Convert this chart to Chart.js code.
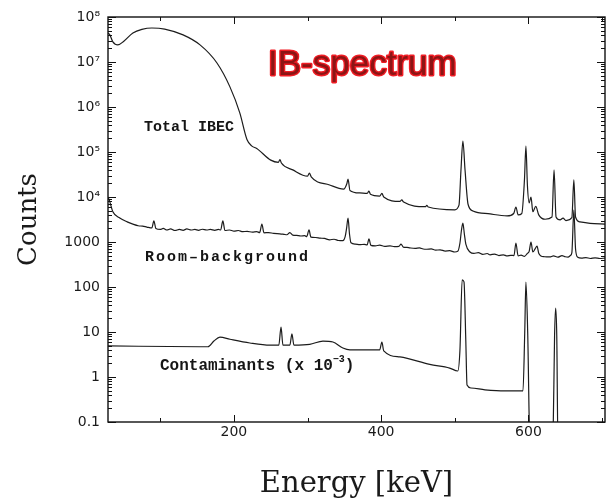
<!DOCTYPE html>
<html>
<head>
<meta charset="utf-8">
<title>IB-spectrum</title>
<script src="https://cdn.jsdelivr.net/npm/chart.js"></script>
<style>
  html, body { margin: 0; padding: 0; background: #fff; }
  #ib { display: block; }
</style>
</head>
<body>
<canvas id="ib" width="611" height="502"></canvas>
<script>
// spectra: energy in keV, counts per channel
var totalEnergy = [29, 31.5, 35.6, 42.4, 50.5, 62.8, 75, 88.6, 106, 131, 154, 177, 194.6, 208, 217.7, 224.5, 231,
  250, 260.5, 262.5, 264.5, 280, 300, 302.5, 305, 330, 349, 353.5, 355, 357.6, 371, 381, 383.4, 385.5,
  398, 401, 403.5, 425.5, 428, 430.5, 460, 462, 464, 500, 505.7, 508.4, 511, 513.9, 518, 524.7, 548, 571,
  580, 583, 586, 591, 594.6, 596.6, 598.6, 601, 603.5, 606, 610, 614, 622.6, 632, 634.8, 637.5, 643, 647,
  651, 659, 661.7, 664, 670, 683.7, 704];
var totalCounts = [4.4e7, 4.0e7, 2.8e7, 2.4e7, 2.9e7, 4.4e7, 5.3e7, 5.7e7, 5.4e7, 4.0e7, 2.4e7, 9.5e6, 2.8e6, 7.4e5, 1.9e5, 1.35e5, 1.2e5,
  6.6e4, 5.9e4, 6.8e4, 5.7e4, 4.0e4, 2.9e4, 3.4e4, 2.8e4, 1.85e4, 1.5e4, 2.0e4, 2.5e4, 1.4e4, 1.23e4, 1.2e4, 1.35e4, 1.15e4,
  1.05e4, 1.2e4, 1.0e4, 8.0e3, 8.6e3, 7.7e3, 6.1e3, 6.5e3, 6.0e3, 5.2e3, 6.6e3, 4.0e4, 1.74e5, 4.0e4, 6.9e3, 4.9e3, 4.2e3, 3.8e3,
  4.3e3, 6.0e3, 4.0e3, 4.3e3, 2.4e4, 1.35e5, 1.85e4, 7.4e3, 1.0e4, 4.7e3, 6.2e3, 4.0e3, 3.2e3, 3.6e3, 4.0e4, 3.6e3, 3.1e3, 3.4e3,
  3.0e3, 3.5e3, 2.4e4, 3.6e3, 2.8e3, 2.6e3, 2.5e3];

var roomEnergy = [29, 31.5, 35.6, 45, 55, 62.8, 70, 76, 81.8, 88.6,
  91.3, 94, 100, 104, 109, 114, 120, 126, 131, 136,
  142, 147, 152, 157, 163, 168, 174, 179, 182, 185,
  187.8, 194, 200, 206, 212, 218, 225, 231, 235, 238,
  240.8, 247, 254, 262.5, 268, 272, 276, 280, 285, 291,
  296, 299, 302, 304.6, 311, 317, 323, 330, 336, 342,
  348, 351, 353, 355, 357, 359, 365, 371, 377, 381,
  383.4, 386, 392, 398, 405, 412, 418, 424, 427, 430,
  435, 439, 446, 452, 457, 462, 468, 474, 480, 487,
  493, 500, 504, 507, 509, 511, 513, 515, 520.6, 526,
  532, 538, 544, 548, 554, 560, 566, 571, 576, 580.4,
  583, 586, 590, 594.6, 598.6, 601, 603.5, 606, 609, 611.7,
  614, 617, 622, 629, 634, 640, 645.6, 650, 653.8, 657,
  659, 661.7, 664, 667, 672, 678, 684, 690.5, 697, 704];
var roomCounts = [1.0e4, 7.8e3, 4.7e3, 3.4e3, 2.8e3, 2.5e3, 2.3e3, 2.25e3, 2.15e3, 2.05e3,
  2.95e3, 2.0e3, 1.9e3, 2.0e3, 1.85e3, 1.95e3, 1.8e3, 1.9e3, 1.82e3, 1.95e3,
  1.85e3, 1.9e3, 1.82e3, 1.92e3, 1.85e3, 1.9e3, 1.82e3, 1.9e3, 1.85e3, 2.95e3,
  1.8e3, 1.85e3, 1.75e3, 1.8e3, 1.7e3, 1.72e3, 1.66e3, 1.7e3, 1.62e3, 2.5e3,
  1.6e3, 1.62e3, 1.55e3, 1.52e3, 1.48e3, 1.45e3, 1.62e3, 1.42e3, 1.4e3, 1.36e3,
  1.38e3, 1.32e3, 1.86e3, 1.28e3, 1.26e3, 1.22e3, 1.2e3, 1.12e3, 1.15e3, 1.08e3,
  1.07e3, 1.3e3, 2.0e3, 3.4e3, 1.5e3, 960, 900, 870, 890, 860,
  1.17e3, 840, 820, 850, 800, 820, 790, 800, 900, 770,
  760, 740, 720, 740, 700, 690, 700, 660, 670, 630,
  640, 600, 620, 950, 1.8e3, 2.63e3, 1.5e3, 900, 600, 560,
  580, 530, 555, 520, 540, 500, 520, 490, 505, 500,
  950, 490, 510, 480, 560, 620, 1.0e3, 600, 700, 810,
  560, 490, 470, 465, 490, 460, 500, 470, 460, 500,
  580, 5.1e3, 700, 460, 440, 450, 430, 445, 430, 440];

var contEnergy = [29, 154, 164.7, 172.8, 181, 194.6, 221.7, 249, 261, 264, 266.6, 276, 278.8, 281.5, 303, 321, 334.5,
  348, 357.6, 398, 401, 403.5, 425.5, 466, 493, 504, 507, 510, 512.5, 515, 516.6, 522, 541, 568, 592.6,
  595, 596.6, 599, 602, 605, 631, 633.5, 635.5, 637, 638.5, 640, 704];
var contCounts = [4.9, 4.7, 4.7, 6.3, 7.7, 6.9, 5.7, 5.1, 5.1, 12.9, 5.1, 5.1, 9.1, 5.1, 5.3, 6.3, 6.0,
  4.4, 4.0, 4.0, 6.0, 3.8, 2.8, 1.9, 1.58, 1.36, 4.0, 145, 130, 6.0, 0.66, 0.57, 0.52, 0.49, 0.49,
  10, 129, 10, 0.03, 0.02, 0.02, 0.05, 8, 34, 8, 0.05, 0.02];

var yTickValues = [0.1, 1, 10, 100, 1000, 1e4, 1e5, 1e6, 1e7, 1e8];
var yTickLabels = ['0.1', '1', '10', '100', '1000', '10⁴', '10⁵', '10⁶', '10⁷', '10⁸'];
var xTickValues = [200, 400, 600];
var xMinorValues = [100, 300, 500, 700];

function points(xs, ys) {
  var out = [];
  for (var i = 0; i < xs.length; i++) {
    out.push({ x: xs[i], y: ys[i] });
  }
  return out;
}

function spectrum(label, xs, ys) {
  return {
    label: label,
    data: points(xs, ys),
    borderColor: '#1c1c1c',
    borderWidth: 1.2,
    pointRadius: 0,
    cubicInterpolationMode: 'monotone',
    fill: false
  };
}

// box around the plot with inward ticks on all four sides, plus the text labels
var framePlugin = {
  id: 'frame',
  afterDraw: function (chart) {
    var ctx = chart.ctx;
    var a = chart.chartArea;
    var xs = chart.scales.x;
    var ys = chart.scales.y;
    ctx.save();
    ctx.strokeStyle = '#111';
    ctx.lineWidth = 1.4;
    ctx.strokeRect(a.left, a.top, a.right - a.left, a.bottom - a.top);

    ctx.lineWidth = 1;
    ctx.beginPath();
    yTickValues.forEach(function (v, i) {
      var py = Math.round(ys.getPixelForValue(v)) + 0.5;
      ctx.moveTo(a.left, py); ctx.lineTo(a.left + 8, py);
      ctx.moveTo(a.right, py); ctx.lineTo(a.right - 8, py);
      if (i < yTickValues.length - 1) {
        for (var m = 2; m < 10; m++) {
          var pm = Math.round(ys.getPixelForValue(v * m)) + 0.5;
          ctx.moveTo(a.left, pm); ctx.lineTo(a.left + 4, pm);
          ctx.moveTo(a.right, pm); ctx.lineTo(a.right - 4, pm);
        }
      }
    });
    xTickValues.forEach(function (v) {
      var px = Math.round(xs.getPixelForValue(v)) + 0.5;
      ctx.moveTo(px, a.bottom); ctx.lineTo(px, a.bottom - 7);
      ctx.moveTo(px, a.top); ctx.lineTo(px, a.top + 7);
    });
    xMinorValues.forEach(function (v) {
      var px = Math.round(xs.getPixelForValue(v)) + 0.5;
      ctx.moveTo(px, a.bottom); ctx.lineTo(px, a.bottom - 4);
      ctx.moveTo(px, a.top); ctx.lineTo(px, a.top + 4);
    });
    ctx.stroke();

    ctx.fillStyle = '#151515';
    ctx.textBaseline = 'alphabetic';
    ctx.textAlign = 'left';
    ctx.font = 'bold 15px "Liberation Mono"';
    ctx.fillText('Total IBEC', 144, 131);
    ctx.letterSpacing = '2px';
    ctx.fillText('Room\u2013background', 145, 261);
    ctx.letterSpacing = '0px';
    ctx.font = 'bold 16px "Liberation Mono"';
    var head = 'Contaminants (x 10';
    ctx.fillText(head, 160, 370);
    var w = ctx.measureText(head).width;
    ctx.font = 'bold 10px "Liberation Mono"';
    ctx.fillText('\u22123', 160 + w, 362);
    var w2 = ctx.measureText('\u22123').width;
    ctx.font = 'bold 16px "Liberation Mono"';
    ctx.fillText(')', 160 + w + w2, 370);

    // red title with a dark core
    ctx.font = '35px "Liberation Sans"';
    ctx.lineJoin = 'round';
    ctx.strokeStyle = '#f01c24';
    ctx.lineWidth = 2.8;
    ctx.strokeText('IB-spectrum', 268, 75);
    ctx.fillStyle = '#8c1515';
    ctx.fillText('IB-spectrum', 268, 75);
    ctx.restore();
  }
};

var ibGraph = document.getElementById('ib');

var ibChart = new Chart(ibGraph, {
  type: 'line',
  data: {
    datasets: [
      spectrum('Total IBEC', totalEnergy, totalCounts),
      spectrum('Room-background', roomEnergy, roomCounts),
      spectrum('Contaminants', contEnergy, contCounts)
    ]
  },
  options: {
    responsive: false,
    animation: false,
    devicePixelRatio: 1,
    layout: { padding: { left: 0, right: 6, top: 17, bottom: 0 } },
    plugins: {
      legend: { display: false },
      tooltip: { enabled: false }
    },
    scales: {
      x: {
        type: 'linear',
        min: 29,
        max: 704,
        afterBuildTicks: function (s) {
          s.ticks = xTickValues.map(function (v) { return { value: v }; });
        },
        afterFit: function (s) { s.height = 80; },
        ticks: {
          color: '#1a1a1a',
          font: { family: 'DejaVu Sans', size: 14 },
          padding: 2,
          maxRotation: 0,
          autoSkip: false
        },
        grid: { display: false, drawTicks: false },
        border: { display: false },
        title: {
          display: true,
          text: 'Energy [keV]',
          color: '#1a1a1a',
          font: { family: 'DejaVu Serif', size: 29 },
          padding: { top: 0, bottom: 0 }
        }
      },
      y: {
        type: 'logarithmic',
        min: 0.1,
        max: 1e8,
        afterBuildTicks: function (s) {
          s.ticks = yTickValues.map(function (v) { return { value: v }; });
        },
        afterFit: function (s) { s.width = 108; },
        ticks: {
          color: '#1a1a1a',
          font: { family: 'DejaVu Sans', size: 14 },
          padding: 8,
          autoSkip: false,
          callback: function (v) {
            var i = yTickValues.indexOf(v);
            return i < 0 ? '' : yTickLabels[i];
          }
        },
        grid: { display: false, drawTicks: false },
        border: { display: false },
        title: {
          display: true,
          text: 'Counts',
          color: '#1a1a1a',
          font: { family: 'DejaVu Serif', size: 26 },
          padding: { top: 14, bottom: 0 }
        }
      }
    }
  },
  plugins: [framePlugin]
});
</script>
</body>
</html>
